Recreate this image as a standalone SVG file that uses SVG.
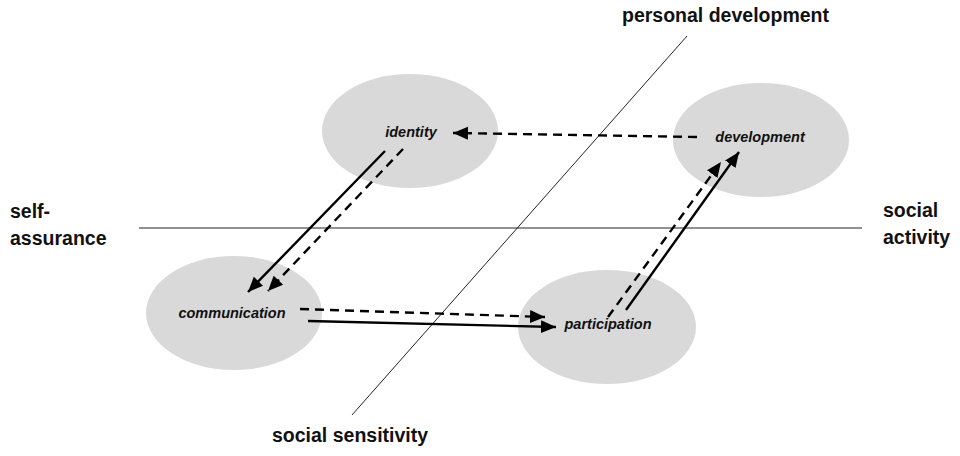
<svg xmlns="http://www.w3.org/2000/svg" width="960" height="456" viewBox="0 0 960 456">
<style>
.node ellipse{fill:#d9d9d9;stroke:none}
.node text{font-family:"Liberation Sans",Arial,sans-serif;font-size:14.5px;font-weight:bold;font-style:italic;fill:#111;text-anchor:middle}
.axis-label{font-family:"Liberation Sans",Arial,sans-serif;font-size:19.5px;font-weight:bold;fill:#111}
.axis{stroke:#222;stroke-width:1;fill:none}
.solid{stroke:#000;stroke-width:2.4;fill:none;marker-end:url(#ah)}
.dash{stroke:#000;stroke-width:2.4;fill:none;stroke-dasharray:9 6;marker-end:url(#ah)}
</style>
<defs>
<marker id="ah" markerUnits="userSpaceOnUse" markerWidth="16" markerHeight="14" refX="15" refY="6.5" orient="auto">
<path d="M0,0 L15,6.5 L0,13 z" fill="#000"/>
</marker>
</defs>
<rect width="960" height="456" fill="#fff"/>
<g id="axes">
<line class="axis" x1="139" y1="228" x2="862" y2="228"/>
<line class="axis" x1="687" y1="36" x2="352" y2="415"/>
<text class="axis-label" x="622" y="22">personal development</text>
<text class="axis-label" x="272" y="442">social sensitivity</text>
<text class="axis-label" x="10" y="218">self-</text>
<text class="axis-label" x="10" y="245">assurance</text>
<text class="axis-label" x="883" y="217">social</text>
<text class="axis-label" x="883" y="244">activity</text>
</g>
<g id="identity" class="node">
<ellipse cx="410" cy="131" rx="88" ry="57"/>
<text x="411" y="137">identity</text>
</g>
<g id="communication" class="node">
<ellipse cx="234" cy="313" rx="88" ry="57"/>
<text x="232" y="318">communication</text>
</g>
<g id="development" class="node">
<ellipse cx="761" cy="140" rx="88" ry="57"/>
<text x="760" y="142">development</text>
</g>
<g id="participation" class="node">
<ellipse cx="607" cy="327" rx="89" ry="57"/>
<text x="608" y="329">participation</text>
</g>
<g id="connectors">
<line class="solid" x1="385" y1="151" x2="248" y2="292"/>
<line class="dash" x1="403" y1="149" x2="268" y2="291"/>
<line class="dash" x1="300" y1="309" x2="545" y2="317"/>
<line class="solid" x1="308" y1="321" x2="556" y2="327"/>
<line class="dash" x1="697" y1="137" x2="453" y2="133"/>
<line class="dash" x1="608" y1="317" x2="721" y2="162"/>
<line class="solid" x1="626" y1="310" x2="739" y2="152"/>
</g>
</svg>
